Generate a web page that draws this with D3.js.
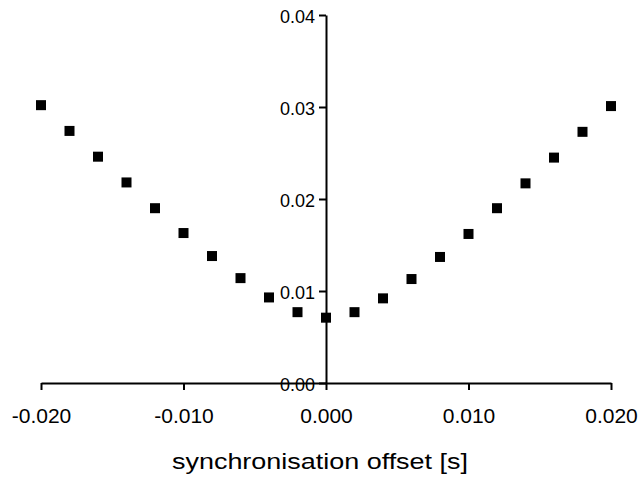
<!DOCTYPE html>
<html>
<head>
<meta charset="utf-8">
<script src="https://cdn.jsdelivr.net/npm/d3@7"></script>
<style>
  body { margin: 0; background: #fff; }
  text { font-family: "Liberation Sans", Arial, sans-serif; }
</style>
</head>
<body>
<svg id="chart" width="641" height="477"></svg>
<script>
var offsets = [-0.020, -0.018, -0.016, -0.014, -0.012, -0.010, -0.008, -0.006, -0.004, -0.002,
               0.000, 0.002, 0.004, 0.006, 0.008, 0.010, 0.012, 0.014, 0.016, 0.018, 0.020];
var values = [0.0302, 0.0274, 0.0246, 0.0218, 0.0190, 0.0163, 0.0138, 0.0114, 0.0093, 0.0077,
              0.0071, 0.0077, 0.0092, 0.0113, 0.0137, 0.0162, 0.0190, 0.0217, 0.0245, 0.0273, 0.0301];
var xTicks = [-0.020, -0.010, 0.000, 0.010, 0.020];
var yTicks = [0.00, 0.01, 0.02, 0.03, 0.04];

var svg = d3.select("#chart");

var scX = d3.scaleLinear().domain([-0.020, 0.020]).range([41, 611]),
    scY = d3.scaleLinear().domain([0, 0.04]).range([383, 15]);

// plain hyphen instead of d3's unicode minus
var fmtX = d => d3.format(".3f")(d).replace("\u2212", "-");

// x axis at y = 0
var gx = svg.append("g").attr("transform", "translate(0," + scY(0) + ")")
  .call(d3.axisBottom(scX).tickValues(xTicks).tickFormat(fmtX).tickSize(7).tickSizeOuter(0).tickPadding(18));

// y axis at x = 0
var gy = svg.append("g").attr("transform", "translate(" + scX(0) + ",0)")
  .call(d3.axisLeft(scY).tickValues(yTicks).tickFormat(d3.format(".2f")).tickSize(7).tickSizeOuter(0).tickPadding(4));

[gx, gy].forEach(function(g) {
  g.attr("font-family", null).attr("font-size", null);
  g.select(".domain").attr("stroke", "#000").attr("stroke-width", 2);
  g.selectAll(".tick line").attr("stroke", "#000").attr("stroke-width", 2);
  g.selectAll(".tick text").attr("fill", "#000");
});
gx.selectAll(".tick text").style("font-size", "21px");
gy.selectAll(".tick text").style("font-size", "18px").attr("dy", "0.42em");

svg.append("text")
  .attr("x", 320).attr("y", 469)
  .attr("text-anchor", "middle")
  .attr("textLength", 296).attr("lengthAdjust", "spacingAndGlyphs")
  .style("font-size", "22px")
  .text("synchronisation offset [s]");

svg.selectAll("rect.pt").data(offsets).enter().append("rect")
  .attr("class", "pt")
  .attr("x", d => scX(d) - 5)
  .attr("y", (d, i) => scY(values[i]) - 5)
  .attr("width", 10).attr("height", 10)
  .attr("fill", "#000");
</script>
</body>
</html>
